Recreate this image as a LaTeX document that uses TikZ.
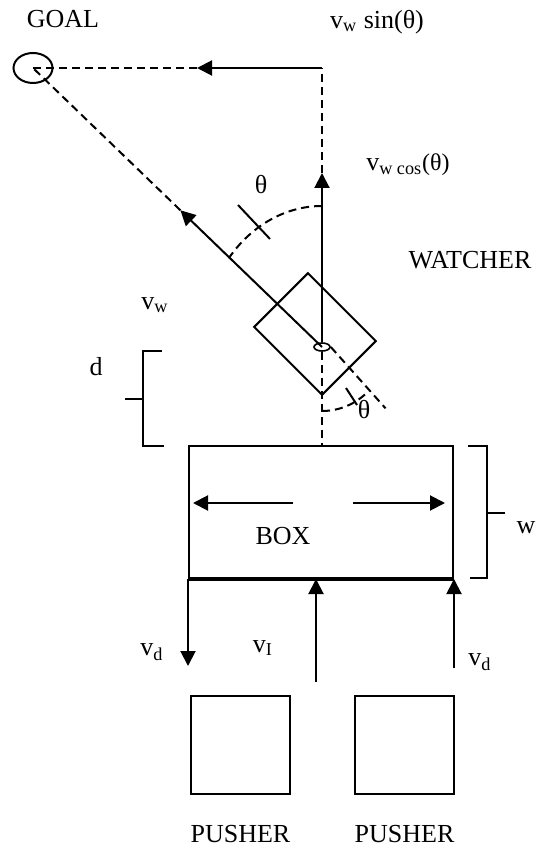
\documentclass[tikz,border=0pt]{standalone}
\usepackage{fontspec}
\setmainfont{Liberation Serif}
\usetikzlibrary{arrows.meta,positioning,shapes.geometric,calc}
\tikzset{lbl/.style={font=\fontsize{13}{15}\selectfont,inner sep=0pt},blk/.style={draw,line width=1pt,inner sep=0pt},vec/.style={-{Triangle[length=7.5pt,width=7.5pt]},line width=1pt},aux/.style={line width=1pt,dash pattern=on 4pt off 2.5pt}}

\begin{document}
\begin{tikzpicture}[x=0.5pt,y=0.5pt]
\useasboundingbox (0,0) rectangle (546,-849);
\node[draw,ellipse,line width=1pt,minimum width=19.5pt,minimum height=15pt,inner sep=0pt] (goal) at (33,-68) {};
\coordinate (wc) at (322,-347);
\coordinate (corner) at (wc |- goal.center);
\node[blk,rotate=-45,minimum width=48pt,minimum height=38pt] (watcher) at (315,-334) {};
\node[draw,ellipse,line width=0.8pt,minimum width=8pt,minimum height=4pt,inner sep=0pt] (hub) at (wc) {};
\node[blk,minimum width=132pt,minimum height=66pt] (crate) at (321,-512) {};
\node[blk,minimum width=49.5pt,minimum height=49pt] (pushl) at (240.5,-745) {};
\node[blk,minimum width=49.5pt,minimum height=49pt,right=31.5pt of pushl] (pushr) {};
\node[lbl] (goaltxt) at (63,-19) {GOAL};
\node[lbl] (sintxt) at (377,-22) {v\textsubscript{w} sin(θ)};
\node[lbl] (costxt) at (408,-165) {v\textsubscript{w cos}{\large(θ)}};
\node[lbl] (thup) at (261,-185) {θ};
\node[lbl] (watchtxt) at (470,-260) {WATCHER};
\node[lbl] (vwtxt) at (155,-305) {v\textsubscript{w}};
\node[lbl] (dtxt) at (96,-367) {d};
\node[lbl] (thlow) at (364,-410) {θ};
\node[lbl] (boxtxt) at (283,-536) {BOX};
\node[lbl] (wtxt) at (526,-528) {w};
\node[lbl] (vdl) at (152,-652) {v\textsubscript{d}};
\node[lbl] (vitxt) at (263,-648) {v\textsubscript{I}};
\node[lbl] (vdr) at (480,-662) {v\textsubscript{d}};
\node[lbl,below=15pt of pushl] (pushltxt) {PUSHER};
\node[lbl,below=15pt of pushr] (pushrtxt) {PUSHER};
\coordinate (vwtip) at ($(wc)!0.49!(goal.center)$);
\coordinate (vwtail) at ($(wc)!-0.22!(goal.center)$);
\coordinate (vcos) at (322,-173);
\coordinate (vsin) at ($(corner)+(-125,0)$);
\coordinate (vi) at (316,-682);
\draw[vec] (wc) -- (vwtip);
\draw[aux] (vwtip) -- (goal.center);
\draw[aux] (hub.east) -- (vwtail);
\draw[vec] (hub.north) -- (vcos);
\draw[aux] (vcos) -- (corner);
\draw[vec] (corner) -- (vsin);
\draw[aux] (vsin) -- (goal.center);
\draw[aux] (hub.south) -- (wc |- crate.north);
\draw[aux] (322,-206) arc[start angle=90,end angle=141,x radius=60pt,y radius=70.5pt];
\draw[line width=1pt] (238,-205) -- (270,-239);
\draw[aux] (322,-411) arc[start angle=-90,end angle=-44,radius=32pt];
\draw[line width=1pt] (346,-388) -- (357,-405);
\draw[vec] (293,-503) -- (193,-503);
\draw[vec] (353,-503) -- (445,-503);
\draw[line width=1.5pt] (crate.south west) -- (crate.south east);
\draw[vec] (crate.south west) -- ++(0,-87);
\draw[vec] (vi) -- (vi |- crate.south);
\draw[vec] ($(crate.south east)+(0,-89)$) -- (crate.south east);
\draw[line width=1pt] (162,-351) -- (143,-351) -- (143,-446) -- (164,-446) (143,-399) -- (125,-399);
\draw[line width=1pt] (468,-446) -- (487,-446) -- (487,-578) -- (470,-578) (487,-513) -- (505,-513);
\end{tikzpicture}
\end{document}
